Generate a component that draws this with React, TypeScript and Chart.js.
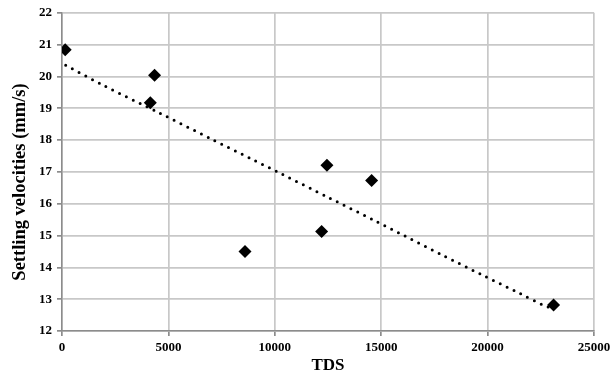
import React, { useEffect, useRef } from 'react';
import { Chart, registerables } from 'chart.js';

Chart.register(...registerables);

const tdsValues = [150, 4150, 4350, 8600, 12200, 12450, 14550, 23100];
const velocityValues = [20.84, 19.17, 20.04, 14.5, 15.13, 17.21, 16.73, 12.82];
const trendTds = [174, 1942, 4526, 7063, 8866, 10307, 12484, 14662, 16100, 17920, 19720, 21520, 22620, 23000];
const trendVelocity = [20.35, 19.72, 18.87, 18.02, 17.42, 16.94, 16.21, 15.48, 14.99, 14.37, 13.77, 13.18, 12.81, 12.72];
const xAxisTitle = 'TDS';
const yAxisTitle = 'Settling velocities (mm/s)';

const FONT = '"Liberation Serif", "Times New Roman", serif';

const yTitlePlugin = {
  id: 'yTitle',
  afterDraw(chart: any) {
    const ctx = chart.ctx;
    ctx.save();
    ctx.translate(20, 182);
    ctx.rotate(-Math.PI / 2);
    ctx.font = `bold 18.5px ${FONT}`;
    ctx.fillStyle = '#000';
    ctx.textAlign = 'center';
    ctx.textBaseline = 'middle';
    ctx.fillText(yAxisTitle, 0, 0);
    ctx.restore();
  },
};

export default function App() {
  const ref = useRef<HTMLCanvasElement | null>(null);
  useEffect(() => {
    if (!ref.current) return;
    const chart = new Chart(ref.current, {
      type: 'scatter',
      data: {
        datasets: [
          {
            label: 'data',
            data: tdsValues.map((x, i) => ({ x, y: velocityValues[i] })),
            pointStyle: 'rectRot',
            pointRadius: 6.5,
            pointBackgroundColor: '#000',
            pointBorderColor: '#000',
            pointBorderWidth: 0,
            showLine: false,
            order: 1,
          },
          {
            label: 'trend',
            data: trendTds.map((x, i) => ({ x, y: trendVelocity[i] })),
            showLine: true,
            pointRadius: 0,
            borderColor: '#000',
            borderWidth: 3,
            borderDash: [0, 7.6],
            borderCapStyle: 'round',
            tension: 0.3,
            order: 2,
          },
        ],
      },
      options: {
        animation: false,
        responsive: false,
        maintainAspectRatio: false,
        layout: { padding: { left: 0, top: 10, right: 16, bottom: 0 } },
        plugins: { legend: { display: false }, tooltip: { enabled: false } },
        scales: {
          x: {
            type: 'linear',
            min: 0,
            max: 25000,
            afterFit: (s: any) => { s.height = 51; s.paddingRight = 0; s.paddingLeft = 0; },
            ticks: {
              stepSize: 5000, color: '#000', padding: 4, maxRotation: 0,
              callback: (v: any) => String(v),
              font: { family: FONT, size: 13, weight: 'bold' },
            },
            grid: { color: '#c8c8c8', lineWidth: 1.7, tickLength: 5, tickColor: '#8c8c8c' },
            border: { color: '#8c8c8c', width: 1.5 },
            title: { display: true, text: xAxisTitle, color: '#000', padding: { top: 8, bottom: 6 }, font: { family: FONT, size: 17, weight: 'bold' } },
          },
          y: {
            type: 'linear',
            min: 12,
            max: 22,
            afterFit: (s: any) => { s.width = 62; },
            ticks: {
              stepSize: 1, color: '#000', padding: 5,
              callback: (v: any) => String(v),
              font: { family: FONT, size: 13, weight: 'bold' },
            },
            grid: { color: '#c8c8c8', lineWidth: 1.7, tickLength: 5, tickColor: '#8c8c8c' },
            border: { color: '#8c8c8c', width: 1.5 },
          },
        },
      },
      plugins: [yTitlePlugin],
    } as any);
    return () => chart.destroy();
  }, []);
  return (
    <div style={{ position: 'absolute', left: 0, top: 0, width: 610, height: 382, background: '#fff' }}>
      <canvas ref={ref} width={610} height={382} style={{ width: 610, height: 382 }} />
    </div>
  );
}
